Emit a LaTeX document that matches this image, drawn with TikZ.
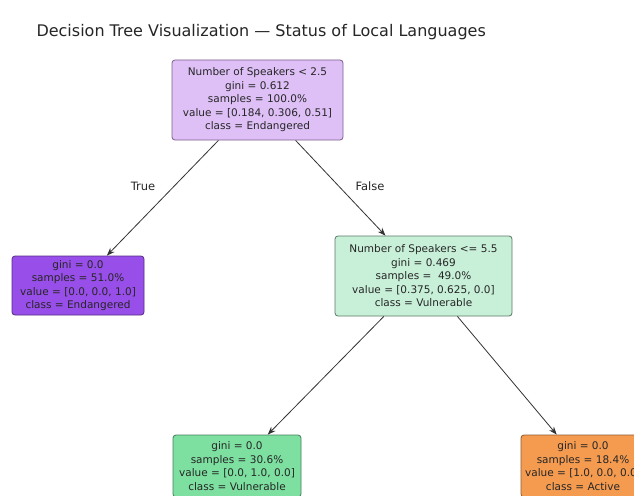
\documentclass[tikz,border=0pt]{standalone}
\usepackage{fontspec}
\setmainfont{DejaVu Sans}
\usetikzlibrary{arrows.meta,positioning}
\definecolor{rootfill}{RGB}{222,192,247}
\definecolor{rootline}{RGB}{120,95,140}
\definecolor{endfill}{RGB}{152,78,232}
\definecolor{endline}{RGB}{85,45,130}
\definecolor{midfill}{RGB}{200,240,216}
\definecolor{midline}{RGB}{90,120,102}
\definecolor{vulfill}{RGB}{125,224,160}
\definecolor{vulline}{RGB}{70,125,90}
\definecolor{actfill}{RGB}{245,155,80}
\definecolor{actline}{RGB}{145,90,45}
\tikzstyle{treenode} = [rectangle, rounded corners=3pt, align=center, text=black!85, font=\fontsize{10.5}{13.5}\selectfont, thick, inner sep=0pt]
\tikzstyle{arrow} = [thick, -{Stealth[length=8pt,width=6pt]}, color=black!80]

\begin{document}
\begin{tikzpicture}[x=1pt, y=-1pt]
\useasboundingbox[fill=white] (0,0) rectangle (634,495);
% Title
\node (title) [anchor=west, font=\fontsize{16}{18}\selectfont, text=black!85] at (33,32) {Decision Tree Visualization — Status of Local Languages};

% Nodes
\node (root) [treenode, draw=rootline, fill=rootfill, minimum width=171pt, minimum height=80pt] at (257.5,100) {Number of Speakers < 2.5\\ gini = 0.612\\ samples = 100.0\%\\ value = [0.184, 0.306, 0.51]\\ class = Endangered};

\node (endleaf) [treenode, draw=endline, fill=endfill, minimum width=132pt, minimum height=59pt] at (78,285.5) {gini = 0.0\\ samples = 51.0\%\\ value = [0.0, 0.0, 1.0]\\ class = Endangered};

\node (split) [treenode, draw=midline, fill=midfill, minimum width=177pt, minimum height=80pt] at (423.5,276) {Number of Speakers <= 5.5\\ gini = 0.469\\ samples = \ 49.0\%\\ value = [0.375, 0.625, 0.0]\\ class = Vulnerable};

\node (vulleaf) [treenode, draw=vulline, fill=vulfill, minimum width=128pt, minimum height=62pt] at (237,466) {gini = 0.0\\ samples = 30.6\%\\ value = [0.0, 1.0, 0.0]\\ class = Vulnerable};

\node (actleaf) [treenode, draw=actline, fill=actfill, minimum width=124pt, minimum height=62pt] at (583,466) {gini = 0.0\\ samples = 18.4\%\\ value = [1.0, 0.0, 0.0]\\ class = Active};

% Edge labels
\node (truelbl) [font=\fontsize{11.5}{13}\selectfont, text=black!85] at (143,186) {True};
\node (falselbl) [font=\fontsize{11.5}{13}\selectfont, text=black!85] at (370,186) {False};

% Arrows
\draw[arrow] (root) -- (endleaf);
\draw[arrow] (root) -- (split);
\draw[arrow] (split) -- (vulleaf);
\draw[arrow] (split) -- (actleaf);
\end{tikzpicture}
\end{document}
